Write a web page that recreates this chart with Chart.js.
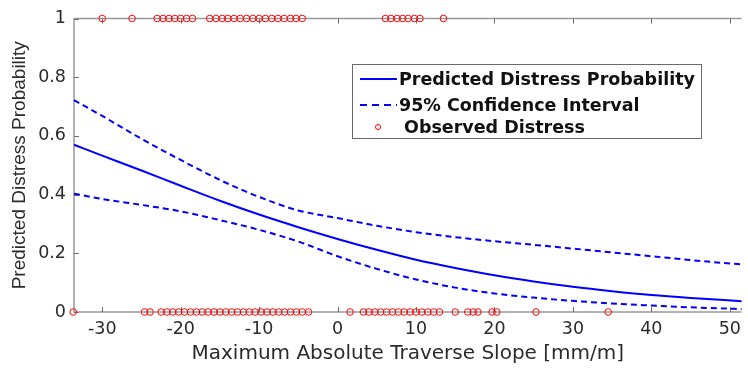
<!DOCTYPE html>
<html><head><meta charset="utf-8">
<script src="https://cdn.jsdelivr.net/npm/chart.js@4.4.1/dist/chart.umd.min.js"></script>
<style>html,body{margin:0;padding:0;background:#fff;}#wrap{width:748px;height:370px;position:relative;}</style>
</head><body><div id="wrap"><canvas id="c" width="748" height="370"></canvas></div>
<script>
// ---- data ----
const slopeX    = [-33.6, -30, -25, -20, -15, -10, -5, 0, 5, 10, 15, 20, 25, 30, 35, 40, 45, 51.5];
const predicted = [0.570, 0.533, 0.482, 0.430, 0.379, 0.332, 0.289, 0.249, 0.212, 0.178, 0.150, 0.125, 0.104, 0.086, 0.071, 0.058, 0.048, 0.037];
const upperCI   = [0.722, 0.668, 0.590, 0.518, 0.450, 0.392, 0.346, 0.320, 0.294, 0.272, 0.255, 0.241, 0.229, 0.216, 0.203, 0.190, 0.177, 0.162];
const lowerCI   = [0.403, 0.385, 0.365, 0.343, 0.313, 0.280, 0.240, 0.190, 0.147, 0.111, 0.083, 0.063, 0.049, 0.038, 0.029, 0.022, 0.016, 0.010];
// observed distress = 1
const distressX = [-30.0, -26.2,
  -23.0, -22.25, -21.5, -20.75, -20.0, -19.25, -18.5,
  -16.3, -15.5, -14.7, -14.0, -13.2, -12.4, -11.6, -10.8, -10.0, -9.2, -8.4, -7.6, -6.8, -6.0, -5.3, -4.5,
  6.1, 6.8, 7.6, 8.3, 9.0, 9.8, 10.5,
  13.5];
// observed distress = 0
const noDistressX = [-33.7, -24.6, -23.9,
  -22.5, -21.75, -21.0, -20.25, -19.5, -18.75, -18.0, -17.25, -16.5, -15.75, -15.0, -14.25, -13.5,
  -12.75, -12.0, -11.25, -10.5, -9.75, -9.0, -8.25, -7.5, -6.75, -6.0, -5.25, -4.5, -3.7,
  1.6,
  3.3, 4.0, 4.75, 5.5, 6.25, 7.0, 7.75, 8.5, 9.25, 10.0, 10.75, 11.5, 12.25, 13.0,
  15.0, 16.6, 17.3, 17.9, 19.7, 20.3, 25.3, 34.5];
const xTicks = [-30, -20, -10, 0, 10, 20, 30, 40, 50];
const yTicks = [0, 0.2, 0.4, 0.6, 0.8, 1];
const seriesLabels = ['Predicted Distress Probability', '95% Confidence Interval', 'Observed Distress'];
const xTitle = 'Maximum Absolute Traverse Slope [mm/m]';
const yTitle = 'Predicted Distress Probability';

const BLUE = '#0000ff', RED = '#ff0000', TXT = '#2b2b2b', AX = '#9a9a9a';
const WIDE = "'DejaVu Sans', Verdana, sans-serif";
const ARIAL = "'Liberation Sans', Arial, Helvetica, sans-serif";

const curve = arr => slopeX.map((x, i) => ({x: x, y: arr[i]}));
const observed = distressX.map(x => ({x: x, y: 1})).concat(noDistressX.map(x => ({x: x, y: 0})));

const framePlugin = {
  id: 'frame',
  beforeDatasetsDraw(chart) {
    const {ctx, chartArea: a, scales: {x, y}} = chart;
    ctx.save();
    ctx.strokeStyle = AX; ctx.lineWidth = 1.5;
    ctx.beginPath();
    ctx.moveTo(a.left, a.top); ctx.lineTo(a.right, a.top);
    ctx.moveTo(a.left, a.top); ctx.lineTo(a.left, a.bottom);
    ctx.lineTo(a.right, a.bottom);
    ctx.stroke();
    ctx.strokeStyle = '#6e6e6e'; ctx.lineWidth = 1;
    ctx.beginPath();
    xTicks.forEach(v => {
      const px = Math.round(x.getPixelForValue(v)) + 0.5;
      ctx.moveTo(px, a.bottom); ctx.lineTo(px, a.bottom - 5);
      ctx.moveTo(px, a.top); ctx.lineTo(px, a.top + 5);
    });
    yTicks.forEach(v => {
      const py = Math.round(y.getPixelForValue(v)) + 0.5;
      ctx.moveTo(a.left, py); ctx.lineTo(a.left + 5, py);
    });
    ctx.stroke();
    ctx.restore();
  },
  afterDatasetsDraw(chart) {
    const ctx = chart.ctx;
    const bx = 352, by = 64, bw = 349, bh = 74;
    ctx.save();
    ctx.fillStyle = '#fff';
    ctx.fillRect(bx, by, bw, bh);
    ctx.strokeStyle = '#6a6a6a'; ctx.lineWidth = 1;
    ctx.strokeRect(bx + 0.5, by + 0.5, bw, bh);
    const rows = [79, 105, 127];
    ctx.strokeStyle = BLUE; ctx.lineWidth = 2;
    ctx.beginPath(); ctx.moveTo(360, rows[0]); ctx.lineTo(397, rows[0]); ctx.stroke();
    ctx.setLineDash([7, 5]);
    ctx.beginPath(); ctx.moveTo(360, rows[1]); ctx.lineTo(397, rows[1]); ctx.stroke();
    ctx.setLineDash([]);
    ctx.strokeStyle = RED; ctx.lineWidth = 1;
    ctx.beginPath(); ctx.arc(378, rows[2], 2.5, 0, Math.PI * 2); ctx.stroke();
    ctx.fillStyle = '#111';
    ctx.font = 'bold 17.5px ' + WIDE;
    ctx.textBaseline = 'middle'; ctx.textAlign = 'left';
    ctx.fillText(seriesLabels[0], 399, rows[0] + 1);
    ctx.fillText(seriesLabels[1], 399, rows[1] + 1);
    ctx.fillText(seriesLabels[2], 404, rows[2] + 1);
    ctx.restore();
  }
};

new Chart(document.getElementById('c'), {
  type: 'scatter',
  data: {
    datasets: [
      {label: seriesLabels[0], data: curve(predicted), showLine: true, borderColor: BLUE, borderWidth: 2, pointRadius: 0, cubicInterpolationMode: 'monotone', clip: false},
      {label: seriesLabels[1], data: curve(upperCI), showLine: true, borderColor: BLUE, borderWidth: 2, borderDash: [6, 4], pointRadius: 0, cubicInterpolationMode: 'monotone', clip: false},
      {label: seriesLabels[1], data: curve(lowerCI), showLine: true, borderColor: BLUE, borderWidth: 2, borderDash: [6, 4], pointRadius: 0, cubicInterpolationMode: 'monotone', clip: false},
      {label: seriesLabels[2], data: observed, showLine: false, pointStyle: 'circle', pointRadius: 3.3, borderColor: RED, backgroundColor: 'rgba(0,0,0,0)', pointBorderWidth: 1, clip: false}
    ]
  },
  options: {
    responsive: false, animation: false, devicePixelRatio: 1,
    layout: {padding: {top: 15, right: 0, left: 0, bottom: 0}},
    plugins: {legend: {display: false}, tooltip: {enabled: false}},
    scales: {
      x: {
        type: 'linear', min: -33.6, max: 51.5,
        grid: {display: false, drawTicks: false}, border: {display: false},
        afterBuildTicks: s => { s.ticks = xTicks.map(v => ({value: v})); },
        afterFit: s => { s.height = 58; },
        ticks: {color: TXT, font: {size: 17.5, family: WIDE}, padding: 7, maxRotation: 0},
        title: {display: true, text: xTitle, color: TXT, font: {size: 20, family: WIDE}, padding: {top: 0, bottom: 4}}
      },
      y: {
        type: 'linear', min: 0, max: 1,
        grid: {display: false, drawTicks: false}, border: {display: false},
        afterBuildTicks: s => { s.ticks = yTicks.map(v => ({value: v})); },
        afterFit: s => { s.width = 74; },
        ticks: {color: TXT, font: {size: 17.5, family: WIDE}, padding: 8, callback: v => String(+(+v).toFixed(1))},
        title: {display: true, text: yTitle, color: TXT, font: {size: 19, family: ARIAL}, padding: {top: 8, bottom: 0}}
      }
    }
  },
  plugins: [framePlugin]
});
</script></body></html>
